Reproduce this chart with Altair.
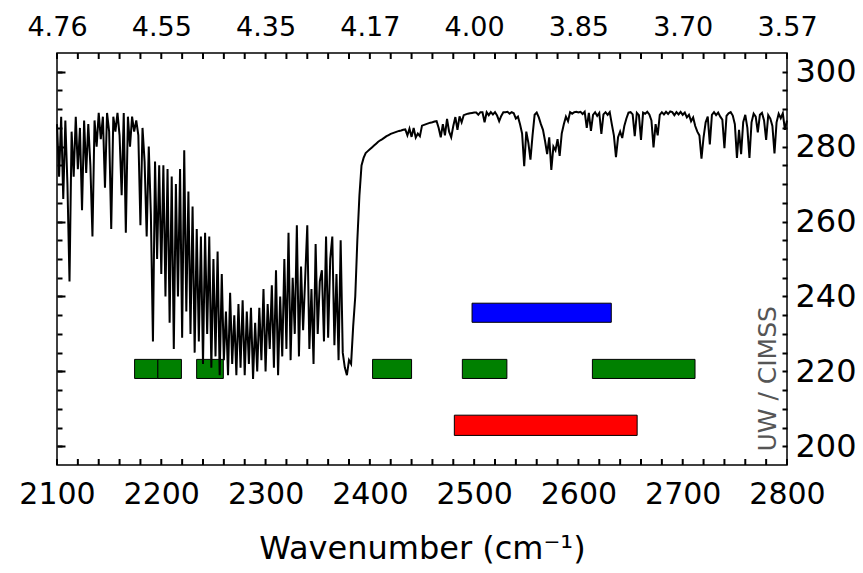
import altair as alt
import pandas as pd

# ---------------- data ----------------
# brightness temperature (K), sampled every 2 cm-1 starting at 2100 cm-1
bt_co2_band = [
    286, 272, 288, 266, 287,
    270, 244, 284, 272, 288,
    274, 285, 263, 287, 273,
    286, 275, 256, 287, 280,
    289, 282, 288, 269, 289,
    284, 258, 288, 284, 289,
    283, 267, 289, 257, 288,
    280, 288, 284, 287, 283,
    259, 285, 276, 256, 280,
    262, 228, 276, 250, 275,
    246, 275, 240, 274, 233,
    272, 226, 270, 240, 274,
    229, 279, 236, 268, 230,
    264, 225, 258, 228, 256,
    222, 257, 230, 256, 221,
    250, 224, 252, 219, 246,
    223, 236, 219, 241, 222,
    235, 219, 238, 221, 239,
    219, 236, 222, 237, 218,
    233, 220, 237, 223, 242,
    220, 238, 226, 243, 221,
    247, 219, 240, 224, 250,
    226, 257, 223, 245, 230,
    259, 224, 248, 231, 245,
    259, 226, 242, 222, 254,
    230, 244, 247, 228, 256,
    229, 250, 256, 227, 246,
    223, 255, 225, 221, 219,
    223, 222, 232, 240, 255,
    267, 275, 277,
]
# continues every 2 cm-1 from 2396 cm-1 to 2800 cm-1
bt_window = [
    278.3, 278.8,
    279.3, 279.8, 280.3, 280.8, 281.3,
    281.7, 282.0, 282.4, 282.8, 283.1,
    283.4, 283.6, 283.8, 284.0, 284.2,
    284.3, 284.5, 284.6, 283.0, 284.8,
    282.6, 285.0, 282.4, 283.5, 282.8,
    285.6, 285.8, 286.0, 286.2, 286.4,
    286.5, 286.7, 286.8, 285.0, 282.5,
    286.0, 283.0, 287.4, 284.0, 282.5,
    285.5, 287.9, 284.5, 288.1, 286.5,
    288.4, 288.6, 288.8, 288.9, 289.0,
    289.1, 289.1, 288.5, 289.2, 289.2,
    286.5, 289.2, 288.4, 289.2, 288.6,
    289.2, 288.3, 286.8, 288.2, 289.2,
    289.2, 289.3, 288.8, 289.2, 288.9,
    287.5, 288.0, 286.0, 283.5, 274.8,
    284.0, 281.0, 276.5, 283.0, 288.5,
    289.1, 287.8, 286.0, 284.5, 281.5,
    278.0, 282.5, 273.8, 280.0, 279.0,
    282.0, 277.5, 283.5, 286.0, 288.0,
    286.8, 289.2, 288.8, 289.2, 289.3,
    289.1, 289.3, 288.7, 289.3, 285.0,
    289.0, 284.2, 288.5, 289.2, 288.2,
    289.0, 283.4, 288.6, 289.2, 288.5,
    289.2, 286.0, 283.0, 277.2, 282.5,
    284.0, 282.3, 285.5, 287.5, 289.1,
    289.2, 288.6, 282.8, 289.0, 288.4,
    281.8, 289.1, 288.8, 289.3, 288.6,
    287.0, 279.8, 286.0, 283.0, 288.5,
    289.2, 288.6, 289.3, 288.7, 289.4,
    289.2, 288.4, 289.2, 288.6, 289.3,
    288.5, 289.1, 287.8, 288.5, 286.8,
    287.8, 285.5, 284.0, 283.0, 276.8,
    282.5, 286.5, 288.0, 280.6, 288.5,
    289.2, 288.4, 289.1, 288.0, 287.2,
    279.6, 288.2, 288.9, 289.2, 288.3,
    286.0, 277.0, 284.5, 278.0, 286.5,
    288.5, 285.0, 277.0, 286.5, 288.8,
    288.0, 283.8, 288.5, 289.0, 287.0,
    281.8, 288.4, 287.5, 285.5, 278.2,
    286.5, 288.8, 287.6, 288.9, 284.5,
    287.0,
]

# spectral band boxes (wavenumber range, temperature range, colour)
band_lo = [2174.4, 2196.7, 2233.9, 2402.6, 2488.7, 2613.4, 2498.0, 2481.0]
band_hi = [2196.7, 2219.3, 2259.5, 2440.0, 2531.4, 2711.8, 2631.5, 2656.3]
band_bottom = [218.1, 218.1, 218.1, 218.1, 218.1, 218.1, 233.1, 202.9]
band_top = [223.2, 223.2, 223.2, 223.2, 223.2, 223.2, 238.2, 208.3]
band_color = ["#008000", "#008000", "#008000", "#008000", "#008000", "#008000",
              "#0000ff", "#ff0000"]

x_labels = [2100, 2200, 2300, 2400, 2500, 2600, 2700, 2800]
y_labels = [200, 220, 240, 260, 280, 300]
x_minor = list(range(2100, 2801, 20))
y_minor = list(range(200, 301, 5))

# ---------------- build tables ----------------
bt = bt_co2_band + bt_window
spec = pd.DataFrame({"wn": [2100 + 2 * i for i in range(len(bt))], "bt": bt})
bands = pd.DataFrame({"x": band_lo, "x2": band_hi, "y": band_bottom,
                      "y2": band_top, "c": band_color})
xmin = pd.DataFrame({"t": x_minor})

W, H = 730, 412
FONT = "DejaVu Sans"
xs = alt.Scale(domain=[2100, 2800], nice=False, zero=False)
ys = alt.Scale(domain=[195, 305], nice=False, zero=False)
MAJ, MIN = 8, 5


def tick_axis(orient, offset, values, size):
    return alt.Axis(orient=orient, offset=offset, values=values, tickSize=size,
                    labels=False, domain=False, grid=False, title=None,
                    ticks=True, tickColor="#000000", tickWidth=2)


# bars: bottom labels + right labels
bars = alt.Chart(bands).mark_rect(stroke="black", strokeWidth=1).encode(
    x=alt.X("x:Q", scale=xs, axis=alt.Axis(
        orient="bottom", values=x_labels, ticks=False, domain=False, grid=False,
        labelFont=FONT, labelFontSize=30, labelColor="black", labelPadding=14,
        labelFlush=False, labelOverlap=False, format="d",
        title="Wavenumber (cm\u207b\u00b9)", titleFont=FONT, titleFontSize=32,
        titleFontWeight="normal", titleColor="black", titlePadding=24)),
    x2="x2:Q",
    y=alt.Y("y:Q", scale=ys, axis=alt.Axis(
        orient="right", values=y_labels, ticks=False, domain=False, grid=False,
        labelFont=FONT, labelFontSize=32, labelColor="black", labelPadding=8,
        labelFlush=False, labelOverlap=False, title=None, format="d")),
    y2="y2:Q",
    color=alt.Color("c:N", scale=None),
)

# spectrum: top labels (wavelength, um) + left major ticks
line = alt.Chart(spec).mark_line(color="black", strokeWidth=2).encode(
    x=alt.X("wn:Q", scale=xs, axis=alt.Axis(
        orient="top", values=x_labels, ticks=False, domain=False, grid=False,
        labelFont=FONT, labelFontSize=27, labelColor="black", labelPadding=12,
        labelFlush=False, labelOverlap=False, title=None,
        labelExpr="format(10000 / datum.value, '.2f')")),
    y=alt.Y("bt:Q", scale=ys, axis=tick_axis("right", -W, y_labels, MAJ)),
)


def dummy(axis):
    return alt.Chart(bands).mark_point(opacity=0).encode(
        x=alt.X("x:Q", scale=xs, axis=None),
        y=alt.Y("y:Q", scale=ys, axis=axis))


def xticks(y0, y1):
    return alt.Chart(xmin).mark_rule(color="#000000", strokeWidth=2).encode(
        x=alt.X("t:Q", scale=xs, axis=None),
        y=alt.value(y0), y2=alt.value(y1))


credit = alt.Chart(bands).mark_text(
    text="UW / CIMSS", angle=270, font=FONT, fontSize=25, color="#555555",
    align="center", baseline="middle").encode(
    x=alt.X(datum=2782, scale=xs, axis=None),
    y=alt.Y(datum=218, scale=ys, axis=None),
).transform_filter("datum.x2 > 2700")

chart = alt.layer(
    bars, line,
    dummy(tick_axis("right", -W, y_minor, MIN)),
    dummy(tick_axis("left", -W, y_minor, MIN)),
    xticks(0, MIN + 1), xticks(H, H - MIN - 1),
    credit,
).resolve_axis(
    x="independent", y="independent"
).properties(
    width=W, height=H,
    padding={"left": 57, "top": 53, "right": 76, "bottom": 108},
    autosize=alt.AutoSizeParams(type="none"),
    background="white",
).configure_view(stroke="black", strokeWidth=1.5)

chart.save("out.html", embed_options={"renderer": "svg", "actions": False})
